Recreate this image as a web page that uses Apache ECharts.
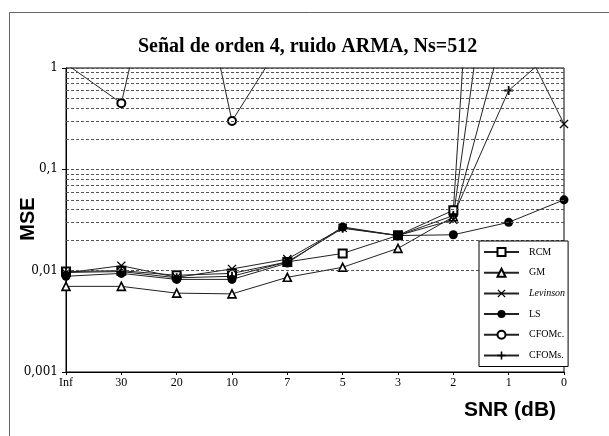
<!DOCTYPE html>
<html>
<head>
<meta charset="utf-8">
<script src="https://cdn.jsdelivr.net/npm/echarts@6/dist/echarts.min.js"></script>
<style>
html,body{margin:0;padding:0;background:#fff;}
#chart{width:609px;height:436px;}
</style>
</head>
<body>
<div id="chart"></div>
<script>
// ---- Data ----
const categories = ['Inf', '30', '20', '10', '7', '5', '3', '2', '1', '0'];
const rcm      = [0.0098, 0.0100, 0.0090, 0.0094, 0.0122, 0.0148, 0.0223, 0.0395, 1e7, 1e5];
const gm       = [0.0070, 0.0070, 0.0060, 0.0059, 0.0086, 0.0108, 0.0166, 0.034, 300, 100];
const levinson = [0.0095, 0.0112, 0.0086, 0.0104, 0.0130, 0.0265, 0.0222, 0.0318, 3.5, 0.28];
const ls       = [0.0088, 0.0094, 0.0082, 0.0082, 0.0119, 0.0270, 0.0222, 0.0226, 0.0300, 0.0500];
const cfomc    = [1.1, 0.45, 100, 0.30, 2.2, 10, 20, 50, 100, 100];
const cfoms    = [0.0096, 0.0098, 0.0085, 0.0088, 0.0122, 0.0262, 0.0222, 0.035, 0.60, 1.8];

const yTickValues = [0.001, 0.01, 0.1, 1];
const yTickTexts  = ['0,001', '0,01', '0,1', '1'];
const minorMantissas = [2, 3, 4, 5, 6, 7, 8, 9];
const minorDecades = [0.001, 0.01, 0.1];

const titleText = 'Señal de orden 4, ruido ARMA, Ns=512';
const yName = 'MSE';
const xName = 'SNR (dB)';

// ---- Chart ----
const chart = echarts.init(document.getElementById('chart'), null, {renderer: 'canvas'});

const gridValues = [];
minorDecades.forEach(d => minorMantissas.forEach(m => gridValues.push(d * m)));

const X_PATH = 'path://M1,0L5,4L9,0L10,1L6,5L10,9L9,10L5,6L1,10L0,9L4,5L0,1Z';
const PLUS_PATH = 'path://M4,0L6,0L6,4L10,4L10,6L6,6L6,10L4,10L4,6L0,6L0,4L4,4Z';

function mkSeries(name, data, symbol, size, itemStyle) {
  return {
    name: name,
    type: 'line',
    data: data,
    symbol: symbol,
    symbolSize: size,
    showAllSymbol: true,
    clip: true,
    z: 3,
    lineStyle: {color: '#222', width: 1},
    itemStyle: itemStyle,
    emphasis: {disabled: true},
    animation: false
  };
}

const option = {
  animation: false,
  backgroundColor: '#fff',
  title: {
    text: titleText,
    left: 133,
    top: 32,
    textStyle: {fontFamily: 'Liberation Serif', fontWeight: 'bold', fontSize: 20, color: '#000'}
  },
  grid: {left: 66, right: 45, top: 68, bottom: 64, show: true, borderColor: '#000', borderWidth: 1, backgroundColor: 'transparent'},
  xAxis: {
    type: 'category',
    data: categories,
    boundaryGap: false,
    axisLine: {lineStyle: {color: '#000', width: 1}},
    axisTick: {show: true, length: 3, lineStyle: {color: '#000'}},
    axisLabel: {fontFamily: 'Liberation Serif', fontSize: 12, color: '#000', margin: 5},
    splitLine: {show: false}
  },
  yAxis: {
    type: 'log',
    logBase: 10,
    min: 0.001,
    max: 1,
    axisLine: {show: true, lineStyle: {color: '#000', width: 1}},
    axisTick: {show: true, length: 4, lineStyle: {color: '#000'}},
    axisLabel: {
      fontFamily: 'DejaVu Serif', fontSize: 12, color: '#000', margin: 8,
      formatter: function (v) {
        for (let i = 0; i < yTickValues.length; i++) {
          if (Math.abs(Math.log10(v) - Math.log10(yTickValues[i])) < 1e-6) return yTickTexts[i];
        }
        return '';
      }
    },
    splitLine: {show: true, lineStyle: {color: '#555', width: 1, type: [3, 2]}}
  },
  legend: {
    orient: 'vertical',
    left: 479,
    top: 241,
    backgroundColor: '#fff',
    borderColor: '#000',
    borderWidth: 1,
    borderRadius: 0,
    padding: [6, 3, 6, 4],
    itemWidth: 35,
    itemHeight: 10,
    itemGap: 10.7,
    z: 10,
    data: ['RCM', 'GM', 'Levinson', 'LS', 'CFOMc.', 'CFOMs.'],
    formatter: function (name) { return name === 'Levinson' ? '{it|' + name + '}' : name; },
    textStyle: {
      fontFamily: 'Liberation Serif', fontSize: 10, color: '#000', padding: [0, 0, 0, 5],
      rich: {it: {fontFamily: 'Liberation Serif', fontSize: 10, fontStyle: 'italic', color: '#000'}}
    }
  },
  graphic: [
    {type: 'rect', shape: {x: 9.5, y: 12.5, width: 700, height: 500}, style: {fill: 'none', stroke: '#666', lineWidth: 1}, silent: true, z: -1},
    {type: 'text', x: 28, y: 219, rotation: Math.PI / 2, style: {text: yName, fontFamily: 'Liberation Sans', fontWeight: 'bold', fontSize: 20, fill: '#000', align: 'center', verticalAlign: 'middle'}},
    {type: 'text', x: 510, y: 410, style: {text: xName, fontFamily: 'Liberation Sans', fontWeight: 'bold', fontSize: 21, fill: '#000', align: 'center', verticalAlign: 'middle'}}
  ],
  series: [
    {
      name: 'grid-minor', type: 'line', data: [], z: 1, silent: true,
      markLine: {
        silent: true, symbol: ['none', 'none'], label: {show: false}, animation: false,
        lineStyle: {color: '#555', width: 1, type: [3, 2]},
        data: gridValues.map(v => ({yAxis: v}))
      }
    },
    mkSeries('RCM', rcm, 'rect', 8, {color: '#fff', borderColor: '#000', borderWidth: 2}),
    mkSeries('GM', gm, 'triangle', 8, {color: '#fff', borderColor: '#000', borderWidth: 1.6}),
    mkSeries('Levinson', levinson, X_PATH, 9, {color: '#000', borderWidth: 0}),
    mkSeries('LS', ls, 'circle', 9, {color: '#000', borderWidth: 0}),
    mkSeries('CFOMc.', cfomc, 'circle', 8, {color: '#fff', borderColor: '#000', borderWidth: 2}),
    mkSeries('CFOMs.', cfoms, PLUS_PATH, 9, {color: '#000', borderWidth: 0})
  ]
};
chart.setOption(option);
</script>
</body>
</html>
